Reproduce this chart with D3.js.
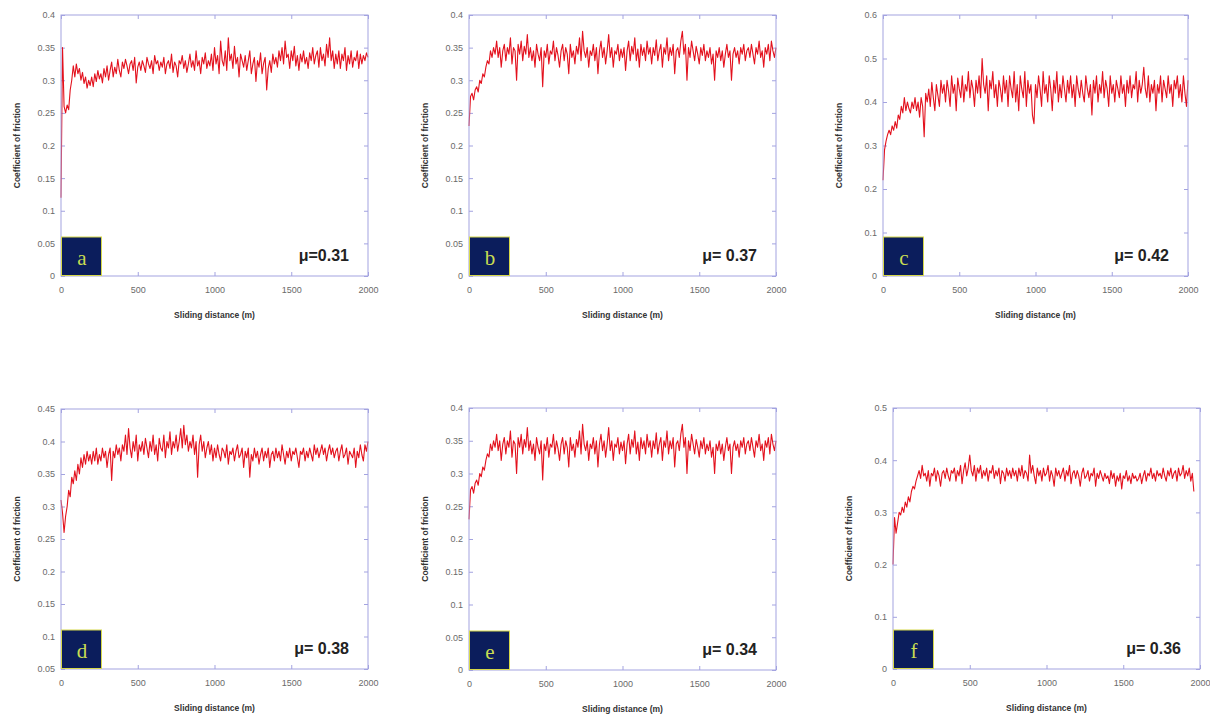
<!DOCTYPE html>
<html lang="en">
<head>
	<meta charset="UTF-8">
	<title>Coefficient of friction vs sliding distance</title>
	<script src="https://cdn.jsdelivr.net/npm/d3@7/dist/d3.min.js"></script>
	<style>
		body { margin: 0; background: #fff; }
		svg { display: block; }
	</style>
</head>
<body>
<div id="chart"></div>
<script>
// panel letters and mean friction labels
var letters = ["a", "b", "c", "d", "e", "f"];
var muLabels = ["\u03bc=0.31", "\u03bc= 0.37", "\u03bc= 0.42", "\u03bc= 0.38", "\u03bc= 0.34", "\u03bc= 0.36"];

// tick labels
var xTicks = [0, 500, 1000, 1500, 2000];
var yTicksA = [0, 0.05, 0.1, 0.15, 0.2, 0.25, 0.3, 0.35, 0.4];
var yTicksC = [0, 0.1, 0.2, 0.3, 0.4, 0.5, 0.6];
var yTicksD = [0.05, 0.1, 0.15, 0.2, 0.25, 0.3, 0.35, 0.4, 0.45];
var yTicksF = [0, 0.1, 0.2, 0.3, 0.4, 0.5];

// sliding distance of the samples (m), one every 10 m
var distance = d3.range(0, 2001, 10);

// coefficient of friction
var cofA = [
 .12,.35,.26,.25,.262,.255,.285,.30,.322,.305,.325,.31,.318,.30,.312,.295,.305,.288,.30,.292,
 .305,.29,.31,.298,.315,.302,.31,.296,.318,.305,.322,.30,.315,.328,.305,.32,.31,.332,.315,.305,
 .328,.318,.332,.322,.31,.325,.33,.315,.335,.296,.32,.328,.315,.33,.322,.312,.335,.325,.318,.33,
 .31,.338,.325,.33,.315,.328,.32,.335,.31,.325,.33,.318,.34,.312,.328,.322,.305,.33,.325,.338,
 .318,.33,.312,.325,.34,.32,.33,.315,.345,.322,.33,.31,.335,.325,.342,.318,.33,.322,.34,.315,
 .35,.325,.338,.31,.36,.33,.322,.345,.315,.365,.33,.34,.318,.352,.325,.335,.305,.34,.33,.32,
 .338,.315,.33,.345,.31,.325,.335,.298,.33,.32,.342,.31,.326,.335,.285,.318,.33,.312,.34,.325,
 .335,.32,.345,.33,.35,.325,.36,.335,.34,.318,.345,.33,.352,.322,.338,.315,.34,.328,.345,.325,
 .335,.318,.342,.33,.35,.325,.338,.345,.32,.35,.33,.34,.322,.355,.335,.365,.33,.345,.318,.34,
 .325,.345,.318,.34,.33,.35,.315,.338,.325,.345,.32,.335,.33,.345,.318,.34,.325,.338,.33,.342,
 .335];

var cofB = [
 .23,.275,.28,.27,.285,.29,.282,.30,.295,.31,.305,.32,.33,.325,.345,.335,.35,.34,.36,.335,
 .35,.32,.345,.355,.33,.35,.34,.365,.325,.35,.345,.30,.355,.34,.36,.33,.352,.34,.37,.335,
 .35,.33,.345,.32,.355,.34,.33,.35,.29,.345,.335,.355,.325,.345,.34,.36,.33,.35,.338,.32,
 .345,.355,.33,.35,.34,.31,.355,.335,.345,.325,.352,.34,.365,.33,.375,.345,.335,.35,.32,.345,
 .338,.355,.33,.35,.31,.345,.36,.335,.35,.325,.345,.37,.335,.35,.32,.345,.34,.355,.33,.348,
 .335,.35,.315,.345,.36,.33,.352,.34,.365,.33,.348,.32,.355,.338,.35,.33,.36,.34,.35,.325,
 .35,.338,.362,.33,.345,.355,.32,.35,.34,.365,.33,.35,.338,.355,.31,.345,.35,.335,.36,.375,
 .34,.355,.30,.35,.335,.36,.345,.33,.352,.34,.325,.35,.338,.355,.33,.345,.335,.35,.325,.34,
 .30,.345,.335,.35,.33,.345,.32,.34,.355,.335,.345,.30,.34,.35,.335,.345,.325,.35,.34,.355,
 .33,.345,.35,.335,.355,.34,.325,.35,.34,.36,.335,.345,.32,.35,.34,.355,.33,.36,.345,.335,
 .35];

var cofC = [
 .22,.29,.31,.325,.335,.325,.345,.335,.355,.34,.37,.36,.39,.375,.41,.38,.40,.385,.375,.40,
 .385,.41,.38,.40,.365,.41,.39,.32,.42,.40,.43,.39,.445,.41,.38,.44,.415,.39,.45,.42,
 .44,.40,.45,.425,.39,.46,.42,.44,.38,.455,.43,.41,.46,.40,.44,.425,.47,.41,.45,.43,
 .39,.45,.42,.46,.41,.50,.44,.42,.46,.38,.45,.43,.47,.41,.44,.39,.45,.43,.40,.46,
 .42,.45,.39,.46,.43,.41,.47,.40,.44,.38,.46,.43,.41,.47,.39,.45,.42,.44,.37,.35,
 .44,.41,.46,.43,.39,.47,.42,.44,.40,.46,.43,.38,.45,.42,.47,.40,.44,.41,.46,.43,
 .40,.45,.42,.46,.41,.44,.39,.46,.43,.41,.45,.42,.40,.46,.43,.41,.44,.37,.45,.42,
 .46,.40,.44,.42,.47,.41,.45,.43,.39,.46,.42,.44,.40,.45,.43,.41,.46,.42,.44,.39,
 .45,.42,.46,.41,.44,.43,.47,.40,.45,.42,.44,.48,.43,.41,.46,.40,.44,.42,.45,.38,
 .44,.42,.46,.40,.45,.43,.41,.46,.42,.44,.39,.45,.43,.46,.41,.44,.40,.46,.42,.39,
 .45];

var cofD = [
 .31,.29,.26,.285,.30,.325,.315,.345,.335,.355,.34,.365,.35,.375,.36,.38,.365,.385,.37,.38,
 .365,.385,.37,.39,.365,.38,.37,.39,.375,.385,.36,.38,.39,.34,.385,.375,.395,.38,.39,.37,
 .395,.385,.41,.38,.42,.39,.375,.40,.385,.41,.37,.395,.385,.40,.38,.405,.39,.375,.40,.385,
 .41,.38,.395,.37,.405,.39,.385,.41,.375,.40,.39,.415,.38,.40,.39,.41,.385,.40,.42,.39,
 .425,.395,.41,.385,.40,.39,.41,.38,.40,.345,.395,.41,.385,.40,.375,.39,.40,.38,.395,.37,
 .39,.375,.395,.38,.37,.39,.385,.375,.395,.365,.385,.38,.39,.37,.385,.395,.375,.38,.39,.36,
 .385,.375,.39,.345,.38,.37,.39,.375,.385,.365,.38,.39,.37,.385,.375,.39,.36,.38,.385,.37,
 .39,.375,.385,.37,.395,.38,.365,.385,.375,.39,.37,.385,.38,.39,.375,.36,.385,.38,.39,.37,
 .385,.375,.39,.38,.37,.395,.38,.39,.375,.385,.395,.38,.39,.37,.385,.395,.38,.39,.375,.385,
 .39,.37,.385,.395,.375,.38,.39,.365,.385,.38,.375,.39,.36,.385,.375,.395,.38,.37,.395,.385,
 .40];

// trace e is the same recording as b
var cofE = cofB;

// trace f stops at 1960 m
var cofF = [
 .20,.29,.26,.28,.30,.295,.31,.30,.32,.31,.33,.32,.34,.35,.345,.36,.37,.38,.365,.39,
 .37,.375,.36,.38,.35,.375,.37,.385,.36,.38,.37,.35,.375,.38,.365,.385,.37,.36,.38,.375,
 .385,.36,.38,.37,.39,.355,.38,.395,.37,.385,.41,.38,.37,.39,.36,.385,.375,.39,.365,.38,
 .37,.385,.36,.38,.375,.39,.365,.38,.37,.385,.355,.38,.375,.36,.385,.37,.38,.365,.385,.37,
 .38,.36,.385,.37,.39,.365,.38,.375,.36,.41,.375,.39,.37,.355,.385,.37,.38,.36,.385,.37,
 .375,.39,.36,.38,.37,.35,.385,.37,.38,.365,.375,.385,.36,.38,.37,.39,.355,.375,.38,.365,
 .38,.37,.35,.375,.385,.365,.37,.38,.36,.375,.37,.385,.35,.375,.365,.38,.37,.36,.375,.365,
 .37,.355,.38,.365,.375,.35,.37,.36,.375,.345,.37,.365,.38,.36,.37,.355,.375,.365,.37,.36,
 .365,.375,.355,.37,.38,.36,.375,.37,.385,.365,.375,.36,.38,.37,.375,.365,.385,.37,.36,.38,
 .37,.385,.365,.375,.38,.36,.385,.37,.375,.39,.365,.38,.37,.385,.36,.375,.34];

var seriesList = [cofA, cofB, cofC, cofD, cofE, cofF];
var yTickList = [yTicksA, yTicksA, yTicksC, yTicksD, yTicksA, yTicksF];

// frame of each plot: left, right, top, bottom (px)
var frames = [
	[61, 368, 15, 276], [469, 776, 15, 276], [883, 1188, 15, 276],
	[61, 368, 409, 669], [469, 776, 408, 670], [893, 1200, 408, 669]
];

var frameColor = "#a3a3e0";
var labelFont = "'Liberation Sans', Arial, sans-serif";

var svg = d3.select("#chart").append("svg")
	.attr("width", 1210)
	.attr("height", 718);

seriesList.forEach(function(values, p){
	var f = frames[p];
	var yt = yTickList[p];
	var g = svg.append("g");

	var x = d3.scaleLinear().domain([0, 2000]).range([f[0], f[1]]);
	var y = d3.scaleLinear().domain([yt[0], yt[yt.length - 1]]).range([f[3], f[2]]);

	var fmt = function(d){ return String(d); };

	// axes with inward ticks on all four sides
	var bottom = g.append("g").attr("transform", "translate(0," + f[3] + ")")
		.call(d3.axisBottom(x).tickValues(xTicks).tickSize(-4).tickPadding(11).tickFormat(fmt));
	var top = g.append("g").attr("transform", "translate(0," + f[2] + ")")
		.call(d3.axisTop(x).tickValues(xTicks).tickSize(-4).tickFormat(""));
	var left = g.append("g").attr("transform", "translate(" + f[0] + ",0)")
		.call(d3.axisLeft(y).tickValues(yt).tickSize(-4).tickPadding(6).tickFormat(fmt));
	var right = g.append("g").attr("transform", "translate(" + f[1] + ",0)")
		.call(d3.axisRight(y).tickValues(yt).tickSize(-4).tickFormat(""));

	[bottom, top, left, right].forEach(function(a){
		a.select(".domain").remove();
		a.selectAll(".tick line").attr("stroke", frameColor);
		a.selectAll(".tick text")
			.attr("fill", "#6a6a6a")
			.style("font-family", labelFont)
			.style("font-size", "9px");
	});

	// trace
	var line = d3.line()
		.x(function(d, i){ return x(distance[i]); })
		.y(function(d){ return y(d); });

	g.append("path")
		.datum(values)
		.attr("d", line)
		.attr("fill", "none")
		.attr("stroke", "#e3111d")
		.attr("stroke-width", 1.1)
		.attr("stroke-linejoin", "round");

	// frame
	g.append("rect")
		.attr("x", f[0]).attr("y", f[2])
		.attr("width", f[1] - f[0]).attr("height", f[3] - f[2])
		.attr("fill", "none")
		.attr("stroke", frameColor)
		.attr("stroke-width", 1);

	// axis titles
	g.append("text")
		.attr("x", (f[0] + f[1]) / 2)
		.attr("y", f[3] + 42)
		.attr("text-anchor", "middle")
		.attr("fill", "#333")
		.style("font-family", labelFont)
		.style("font-size", "8.5px")
		.style("font-weight", "bold")
		.text("Sliding distance (m)");

	g.append("text")
		.attr("transform", "translate(" + (f[0] - 41) + "," + ((f[2] + f[3]) / 2) + ") rotate(-90)")
		.attr("text-anchor", "middle")
		.attr("fill", "#333")
		.style("font-family", labelFont)
		.style("font-size", "8.5px")
		.style("font-weight", "bold")
		.text("Coefficient of friction");

	// panel letter box
	g.append("rect")
		.attr("x", f[0] + 0.5).attr("y", f[3] - 39)
		.attr("width", 40).attr("height", 38.5)
		.attr("fill", "#0b1d5c")
		.attr("stroke", "#d6d84a")
		.attr("stroke-width", 1);

	g.append("text")
		.attr("x", f[0] + 21)
		.attr("y", f[3] - 11)
		.attr("text-anchor", "middle")
		.attr("fill", "#c8dc52")
		.style("font-family", "'Liberation Serif', 'Times New Roman', serif")
		.style("font-size", "21px")
		.text(letters[p]);

	// mean coefficient
	g.append("text")
		.attr("x", f[1] - 19)
		.attr("y", f[3] - 15)
		.attr("text-anchor", "end")
		.attr("fill", "#222")
		.style("font-family", labelFont)
		.style("font-size", "16px")
		.style("font-weight", "bold")
		.text(muLabels[p]);
});
</script>
</body>
</html>
